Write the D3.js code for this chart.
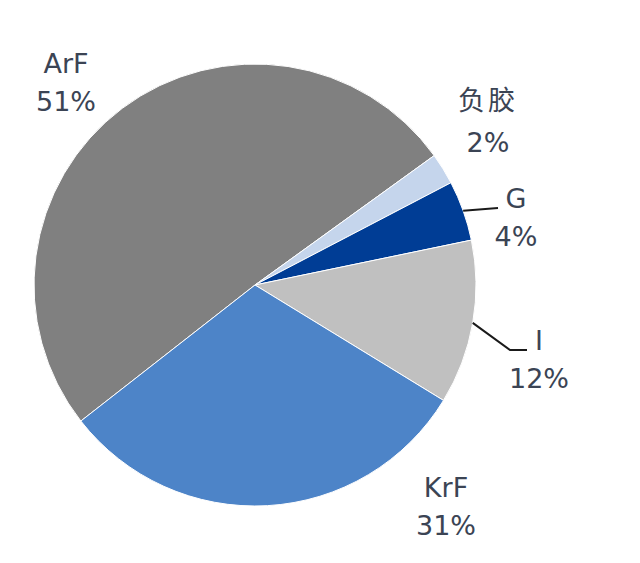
<!DOCTYPE html>
<html>
<head>
<meta charset="utf-8">
<script src="https://cdn.jsdelivr.net/npm/d3@7"></script>
<style>
  body { margin: 0; background: #fff; }
  svg { display: block; }
</style>
</head>
<body>
<div id="chart"></div>
<script>
// categories and shares (%), clockwise from the KrF/ArF edge
const categories = ["ArF", "负胶", "G", "I", "KrF"];
const shares = [50.6, 2.3, 4.4, 12.0, 30.7];
const colors = ["#808080", "#c5d5ec", "#003d95", "#c0c0c0", "#4d84c8"];

const width = 640;
const height = 563;
const CX = 255, CY = 285, R = 221;

// label layout (centre x, first baseline) - kept apart from the data
const LABEL_POS = {
  "ArF": [66, 73],
  "负胶": [488, 110],
  "G": [516, 208],
  "I": [539, 350],
  "KrF": [446, 497]
};
// leader lines end points for the small slices
const LEADERS = {
  "G": [[498, 208]],
  "I": [[510, 350], [527, 350]]
};

const svg = d3.select("#chart")
  .append("svg")
  .attr("width", width)
  .attr("height", height);

const data = categories.map((c, i) => ({ name: c, value: shares[i], color: colors[i] }));

const pie = d3.pie()
  .sort(null)
  .value(d => d.value)
  .startAngle(232 * Math.PI / 180)
  .endAngle((232 + 360) * Math.PI / 180);

const arc = d3.arc().innerRadius(0).outerRadius(R);

const g = svg.append("g")
  .attr("transform", "translate(" + CX + "," + CY + ")");

const arcs = pie(data);

g.selectAll("path")
  .data(arcs)
  .enter()
  .append("path")
  .attr("d", arc)
  .attr("fill", d => d.data.color)
  .attr("stroke", "#ffffff")
  .attr("stroke-width", 1);

// leader lines
arcs.forEach(d => {
  if (!LEADERS[d.data.name]) return;
  let mid = (d.startAngle + d.endAngle) / 2;
  let pts = [[CX + R * Math.sin(mid), CY - R * Math.cos(mid)]].concat(LEADERS[d.data.name]);
  svg.append("path")
    .attr("d", d3.line()(pts))
    .attr("fill", "none")
    .attr("stroke", "#1a1a1a")
    .attr("stroke-width", 2);
});

// labels
arcs.forEach(d => {
  let pos = LABEL_POS[d.data.name];
  let isCjk = /[\u4e00-\u9fff]/.test(d.data.name);
  let t = svg.append("text")
    .attr("x", pos[0])
    .attr("y", pos[1])
    .attr("text-anchor", "middle")
    .attr("fill", "#3b4454")
    .style("font-size", "27px")
    .style("font-family", "'DejaVu Sans', Verdana, sans-serif");
  t.append("tspan")
    .attr("x", pos[0])
    .style("font-family", isCjk ? "'Noto Sans CJK SC', sans-serif" : null)
    .style("letter-spacing", isCjk ? "3px" : null)
    .text(d.data.name);
  t.append("tspan")
    .attr("x", pos[0])
    .attr("dy", isCjk ? 42 : 38)
    .text(Math.round(d.data.value) + "%");
});
</script>
</body>
</html>
